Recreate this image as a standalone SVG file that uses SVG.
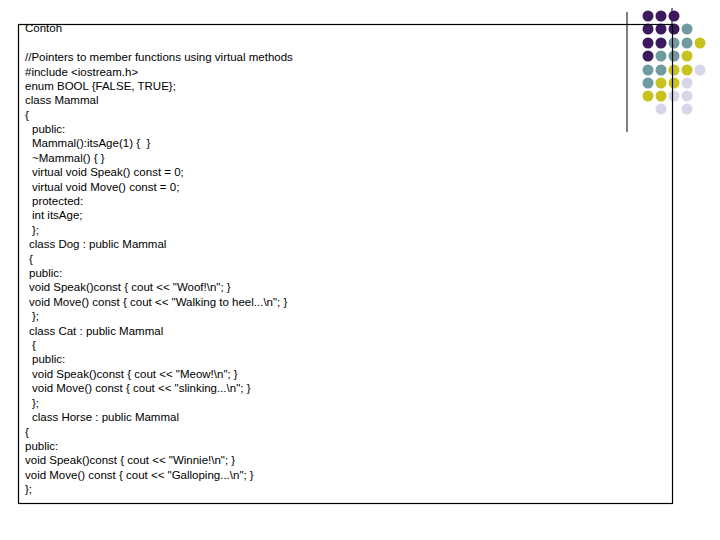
<svg xmlns="http://www.w3.org/2000/svg" width="720" height="540" viewBox="0 0 720 540">
<style>
text{font-family:"Liberation Sans",Arial,sans-serif;font-size:11.5px;fill:#000;white-space:pre}
.p{fill:#3d1a5e}.t{fill:#6f9aa0}.y{fill:#c8c21e}.l{fill:#d6d6e8}
</style>
<rect width="720" height="540" fill="#fff"/>
<g id="decor">
<line x1="627" y1="12" x2="627" y2="132" stroke="#000"/>
<line x1="672" y1="24" x2="672" y2="8" stroke="#000"/>
<g>
<circle class="p" cx="648" cy="16" r="5.5"/><circle class="p" cx="661" cy="16" r="5.5"/><circle class="p" cx="674" cy="16" r="5.5"/>
<circle class="p" cx="648" cy="29" r="5.5"/><circle class="p" cx="661" cy="29" r="5.5"/><circle class="p" cx="674" cy="29" r="5.5"/><circle class="t" cx="687" cy="29" r="5.5"/>
<circle class="p" cx="648" cy="43" r="5.5"/><circle class="p" cx="661" cy="43" r="5.5"/><circle class="t" cx="674" cy="43" r="5.5"/><circle class="t" cx="687" cy="43" r="5.5"/><circle class="y" cx="700" cy="43" r="5.5"/>
<circle class="p" cx="648" cy="56" r="5.5"/><circle class="t" cx="661" cy="56" r="5.5"/><circle class="t" cx="674" cy="56" r="5.5"/><circle class="y" cx="687" cy="56" r="5.5"/>
<circle class="t" cx="648" cy="70" r="5.5"/><circle class="t" cx="661" cy="70" r="5.5"/><circle class="y" cx="674" cy="70" r="5.5"/><circle class="y" cx="687" cy="70" r="5.5"/><circle class="l" cx="700" cy="70" r="5.5"/>
<circle class="t" cx="648" cy="83" r="5.5"/><circle class="y" cx="661" cy="83" r="5.5"/><circle class="y" cx="674" cy="83" r="5.5"/><circle class="l" cx="687" cy="83" r="5.5"/>
<circle class="y" cx="648" cy="96" r="5.5"/><circle class="y" cx="661" cy="96" r="5.5"/><circle class="l" cx="674" cy="96" r="5.5"/><circle class="l" cx="687" cy="96" r="5.5"/>
<circle class="l" cx="661" cy="109" r="5.5"/><circle class="l" cx="687" cy="109" r="5.5"/>
</g>
</g>
<g id="box">
<rect x="18.5" y="24.5" width="654" height="479" fill="none" stroke="#000" stroke-width="1.2"/>
</g>
<g id="code">
<text x="25" y="32">Contoh</text>
<text x="25" y="61">//Pointers to member functions using virtual methods</text>
<text x="25" y="76">#include &lt;iostream.h&gt;</text>
<text x="25" y="90">enum BOOL {FALSE, TRUE};</text>
<text x="25" y="104">class Mammal</text>
<text x="25" y="119">{</text>
<text x="32" y="133">public:</text>
<text x="32" y="147">Mammal():itsAge(1) {  }</text>
<text x="32" y="162">~Mammal() { }</text>
<text x="32" y="176">virtual void Speak() const = 0;</text>
<text x="32" y="191">virtual void Move() const = 0;</text>
<text x="32" y="205">protected:</text>
<text x="32" y="219">int itsAge;</text>
<text x="32" y="234">};</text>
<text x="29" y="248">class Dog : public Mammal</text>
<text x="29" y="263">{</text>
<text x="29" y="277">public:</text>
<text x="29" y="291">void Speak()const { cout &lt;&lt; "Woof!\n"; }</text>
<text x="29" y="306">void Move() const { cout &lt;&lt; "Walking to heel...\n"; }</text>
<text x="32" y="320">};</text>
<text x="29" y="335">class Cat : public Mammal</text>
<text x="32" y="349">{</text>
<text x="32" y="363">public:</text>
<text x="32" y="378">void Speak()const { cout &lt;&lt; "Meow!\n"; }</text>
<text x="32" y="392">void Move() const { cout &lt;&lt; "slinking...\n"; }</text>
<text x="32" y="407">};</text>
<text x="32" y="421">class Horse : public Mammal</text>
<text x="25" y="436">{</text>
<text x="25" y="450">public:</text>
<text x="25" y="464">void Speak()const { cout &lt;&lt; "Winnie!\n"; }</text>
<text x="25" y="479">void Move() const { cout &lt;&lt; "Galloping...\n"; }</text>
<text x="25" y="493">};</text>
</g>
</svg>
